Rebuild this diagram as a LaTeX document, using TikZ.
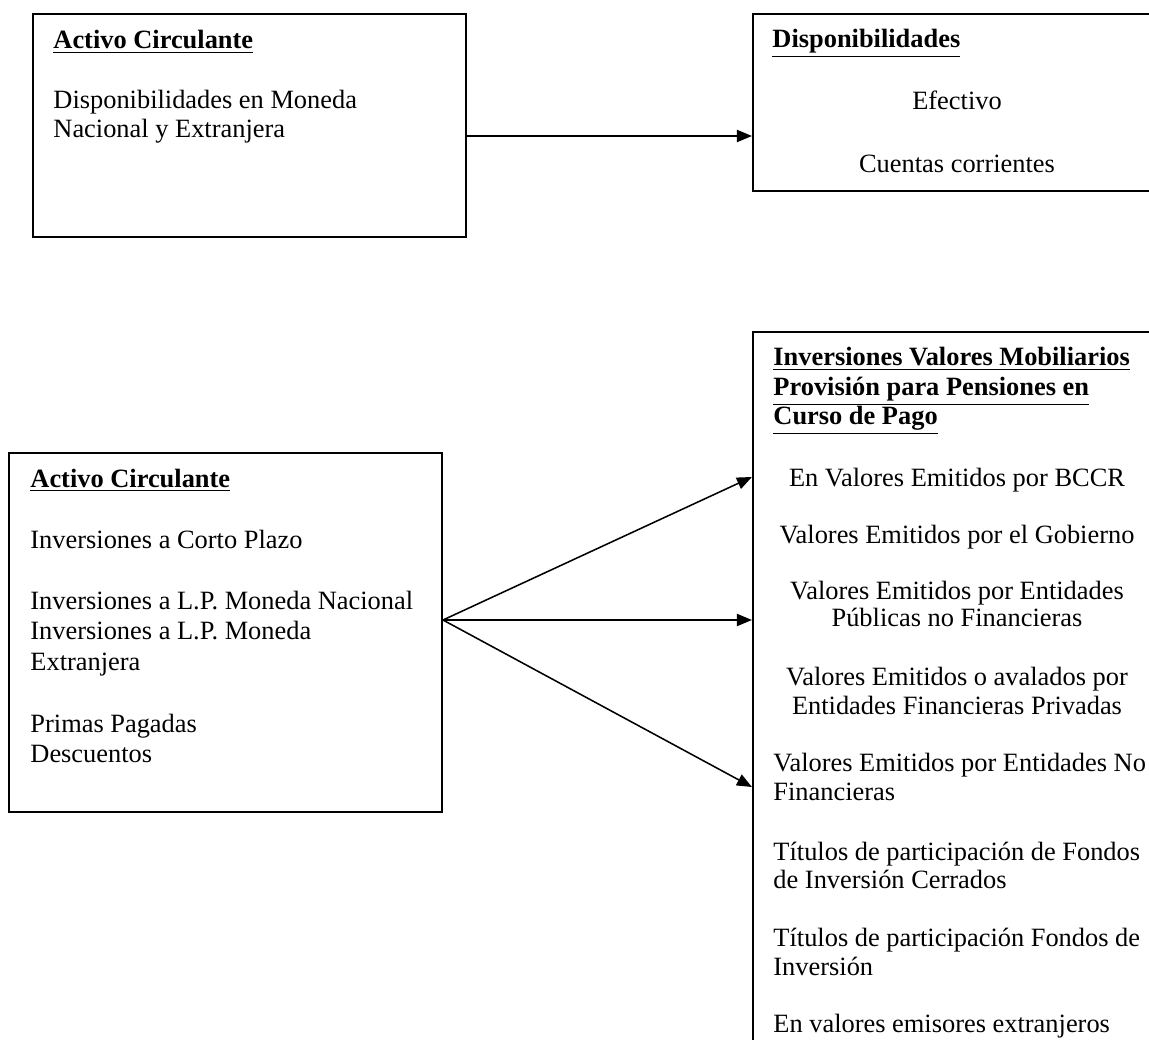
\documentclass[tikz,border=0pt]{standalone}
\usepackage{fontspec}
\setmainfont{Liberation Serif}
\usetikzlibrary{arrows.meta,positioning}
\newcommand{\headtxt}[1]{\underline{\textbf{#1}}}

\begin{document}
\begin{tikzpicture}[x=0.4545pt,y=-0.4545pt,
    box/.style={draw, line width=0.9pt, inner sep=0pt},
    txt/.style={inner sep=0pt, font=\fontsize{12pt}{13.8pt}\selectfont},
    lline/.style={txt, anchor=base west},
    cline/.style={txt, anchor=base},
    arrow/.style={-{Triangle[length=6.8pt,width=5.5pt]}, line width=0.7pt}]
        \useasboundingbox (0,0) rectangle (1149,1040);
        \clip (0,0) rectangle (1149,1040);
        % Boxes
        \node[box, minimum width=196.8pt, minimum height=101.4pt] (circ1) at (249.5,125.5) {};
        \node[box, minimum width=185.5pt, minimum height=80.4pt] (disp) at (957,102.5) {};
        \node[box, minimum width=196.8pt, minimum height=163.2pt] (circ2) at (225.5,632.5) {};
        \node[box, minimum width=185.5pt, minimum height=349pt] (inv) at (957,716) {};
        % Top left box
        \node[lline] (h1) at (53,49) {\headtxt{Activo Circulante}};
        \foreach \y/\t [count=\i] in {109/Disponibilidades en Moneda, 138/Nacional y Extranjera}
            \node[lline] (a\i) at (53,\y) {\t};
        % Top right box
        \node[lline] (h2) at (772,48) {\headtxt{Disponibilidades}};
        \foreach \y/\t [count=\i] in {110/Efectivo, 173/Cuentas corrientes}
            \node[cline] (b\i) at (957,\y) {\t};
        % Bottom left box
        \node[lline] (h3) at (30,487) {\headtxt{Activo Circulante}};
        \foreach \y/\t [count=\i] in {548/Inversiones a Corto Plazo,
            609/Inversiones a L.P. Moneda Nacional, 639/Inversiones a L.P. Moneda,
            670/Extranjera, 732/Primas Pagadas, 762/Descuentos}
            \node[lline] (c\i) at (30,\y) {\t};
        % Bottom right box
        \foreach \y/\t [count=\i] in {366/Inversiones Valores Mobiliarios,
            396/Provisión para Pensiones en, 425/Curso de Pago}
            \node[lline] (h4\i) at (773,\y) {\headtxt{\t}};
        \foreach \y/\t [count=\i] in {486/En Valores Emitidos por BCCR,
            543/Valores Emitidos por el Gobierno, 599/Valores Emitidos por Entidades,
            627/Públicas no Financieras, 685/Valores Emitidos o avalados por,
            714/Entidades Financieras Privadas}
            \node[cline] (d\i) at (957,\y) {\t};
        \foreach \y/\t [count=\i] in {771/Valores Emitidos por Entidades No,
            800/Financieras, 860/Títulos de participación de Fondos,
            888/de Inversión Cerrados, 946/Títulos de participación Fondos de,
            975/Inversión, 1032/En valores emisores extranjeros}
            \node[lline] (e\i) at (773,\y) {\t};
        % Arrows
        \coordinate (y0) at (0,136);
        \draw[arrow] (circ1.east |- y0) -- (disp.west |- y0);
        \coordinate (s0) at (0,620);
        \foreach \y [count=\i] in {477, 620, 787} {
            \coordinate (t\i) at (0,\y);
            \draw[arrow] (circ2.east |- s0) -- (inv.west |- t\i);
        }
    \end{tikzpicture}
\end{document}
